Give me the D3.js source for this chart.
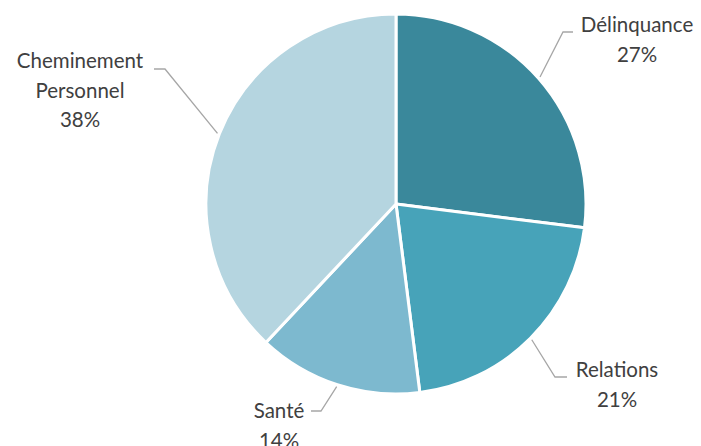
<!DOCTYPE html>
<html><head><meta charset="utf-8">
<script src="https://cdn.jsdelivr.net/npm/d3@7"></script>
<style>html,body{margin:0;padding:0;background:#fff;}svg{display:block;}</style>
</head><body>
<svg id="c" width="701" height="446"></svg>
<script>
const categories = ["Délinquance", "Relations", "Santé", "Cheminement Personnel"];
const values = [27, 21, 14, 38];
const labelLines = [["Délinquance"], ["Relations"], ["Santé"], ["Cheminement", "Personnel"]];

const colors = ["#3a889b", "#47a3b9", "#7db9cf", "#b5d5e0"];
// layout: elbow point and label text centre/first baseline (chart layout, not data)
const labelLayout = [
  {elbow: [563, 32], end: [573, 32], tx: 637, ty: 32},
  {elbow: [555, 377], end: [567, 377], tx: 617, ty: 377},
  {elbow: [321, 411], end: [311, 411], tx: 279, ty: 418},
  {elbow: [165, 69], end: [154, 69], tx: 80, ty: 68}
];

const W = 701, H = 446, cx = 396, cy = 204, R = 190;
const svg = d3.select("#c");
const g = svg.append("g").attr("transform", `translate(${cx},${cy})`);
const data = categories.map((c, i) => ({c, v: values[i], i}));
const pie = d3.pie().value(d => d.v).sort(null);
const arc = d3.arc().innerRadius(0).outerRadius(R);
const arcs = pie(data);
const color = d3.scaleOrdinal().domain(categories).range(colors);

g.selectAll("path.slice").data(arcs).join("path")
  .attr("class", "slice")
  .attr("d", arc)
  .attr("fill", d => color(d.data.c))
  .attr("stroke", "#fff").attr("stroke-width", 3).attr("stroke-linejoin", "round");

const lineR = R + 2;
arcs.forEach((a, i) => {
  const mid = (a.startAngle + a.endAngle) / 2;
  const sx = cx + Math.sin(mid) * lineR, sy = cy - Math.cos(mid) * lineR;
  const L = labelLayout[i];
  svg.append("polyline")
    .attr("points", [[sx, sy], L.elbow, L.end].map(p => p.join(",")).join(" "))
    .attr("fill", "none").attr("stroke", "#a6a6a6").attr("stroke-width", 1.3);
  const total = d3.sum(values);
  const lines = labelLines[i].concat([d3.format(".0f")(a.data.v / total * 100) + "%"]);
  const t = svg.append("text").attr("x", L.tx).attr("y", L.ty)
    .attr("text-anchor", "middle").attr("fill", "#404040")
    .attr("font-family", "Lato, 'Open Sans', sans-serif").attr("font-size", 20.5);
  lines.forEach((ln, k) => {
    t.append("tspan").attr("x", L.tx).attr("y", L.ty + k * 29.5).text(ln);
  });
});
</script>
</body></html>
